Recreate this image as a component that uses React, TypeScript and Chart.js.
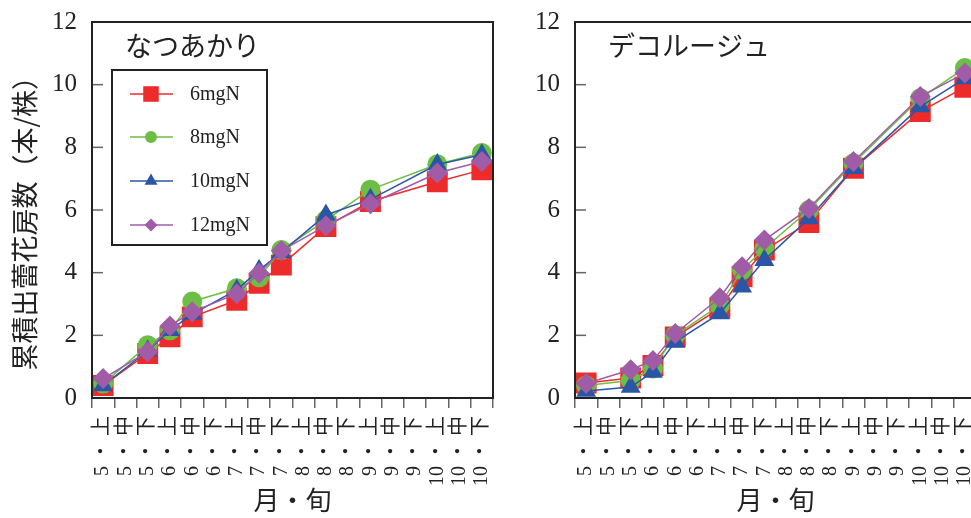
import React, { useEffect, useRef } from 'react';
import { Chart, registerables } from 'chart.js';
import { drawPoint } from 'chart.js/helpers';
Chart.register(...registerables);

// ---------- data ----------
const categories = [
  '5・上', '5・中', '5・下', '6・上', '6・中', '6・下',
  '7・上', '7・中', '7・下', '8・上', '8・中', '8・下',
  '9・上', '9・中', '9・下', '10・上', '10・中', '10・下',
];
const seriesNames = ['6mgN', '8mgN', '10mgN', '12mgN'];
const yTicks = [0, 2, 4, 6, 8, 10, 12];
const xTitle = '月・旬';
const yTitle = '累積出蕾花房数（本/株）';
const panelTitles = ['なつあかり', 'デコルージュ'];

// なつあかり
const natsu6 = [0.40, null, 1.42, 1.95, 2.59, null, 3.12, 3.66, 4.24, null, 5.47, null, 6.27, null, null, 6.90, null, 7.28];
const natsu8 = [0.46, null, 1.68, 2.16, 3.08, null, 3.50, 3.85, 4.72, null, 5.68, null, 6.65, null, null, 7.46, null, 7.82];
const natsu10 = [0.40, null, 1.50, 2.16, 2.68, null, 3.45, 4.08, 4.65, null, 5.84, null, 6.34, null, null, 7.45, null, 7.76];
const natsu12 = [0.62, null, 1.48, 2.30, 2.75, null, 3.33, 3.98, 4.70, null, 5.50, null, 6.20, null, null, 7.18, null, 7.55];

// デコルージュ
const deco6 = [0.48, null, 0.64, 1.04, 1.95, null, 2.86, 3.87, 4.72, null, 5.60, null, 7.33, null, null, 9.14, null, 9.92];
const deco8 = [0.40, null, 0.56, 0.94, 2.00, null, 2.96, 4.08, 4.77, null, 6.00, null, 7.49, null, null, 9.57, null, 10.53];
const deco10 = [0.22, null, 0.35, 0.83, 1.79, null, 2.70, 3.55, 4.40, null, 5.73, null, 7.33, null, null, 9.30, null, 10.20];
const deco12 = [0.46, null, 0.90, 1.20, 2.06, null, 3.20, 4.19, 5.04, null, 6.05, null, 7.55, null, null, 9.62, null, 10.37];

// ---------- styles ----------
const colors = ['#ee2b2b', '#6dbe45', '#2a56a6', '#a15ca8'];
const shapes = ['rect', 'circle', 'triangle', 'rectRot'];
const radii = [14.8, 10, 11.5, 10.5];
const legendRadii = [11, 6, 7.5, 6.5];
const TEXT = '#222';
const SERIF = "'Liberation Serif', 'Times New Roman', serif";
const CJK = "'Noto Sans CJK JP', sans-serif";

const decor = {
  id: 'decor',
  beforeDatasetsDraw(chart: any) {
    const { ctx, chartArea } = chart;
    const y = chart.scales.y;
    ctx.save();
    ctx.strokeStyle = '#666';
    ctx.lineWidth = 1.5;
    y.ticks.forEach((t: any) => {
      const py = y.getPixelForValue(t.value);
      ctx.beginPath();
      ctx.moveTo(chartArea.left, py);
      ctx.lineTo(chartArea.left + 11, py);
      ctx.stroke();
    });
    ctx.restore();
  },
  afterDatasetsDraw(chart: any, _args: any, opts: any) {
    const { ctx, chartArea } = chart;
    const { left, top, right, bottom } = chartArea;
    ctx.save();
    ctx.strokeStyle = TEXT;
    ctx.lineWidth = 2;
    ctx.strokeRect(left, top, right - left, bottom - top);

    ctx.fillStyle = TEXT;
    ctx.font = `27px ${CJK}`;
    ctx.textBaseline = 'middle';
    ctx.textAlign = 'left';
    ctx.fillText(opts.title, left + 33, top + 24);

    if (opts.legend) {
      const bx = left + 20, by = top + 48, bw = 155, bh = 175;
      ctx.fillStyle = '#fff';
      ctx.fillRect(bx, by, bw, bh);
      ctx.strokeStyle = TEXT;
      ctx.lineWidth = 2;
      ctx.strokeRect(bx, by, bw, bh);
      const rows = [72, 115, 159, 203];
      chart.data.datasets.forEach((ds: any, i: number) => {
        const ry = top + rows[i];
        ctx.strokeStyle = colors[i];
        ctx.lineWidth = 1.5;
        ctx.beginPath();
        ctx.moveTo(left + 38, ry);
        ctx.lineTo(left + 81, ry);
        ctx.stroke();
        ctx.fillStyle = colors[i];
        drawPoint(ctx, { pointStyle: shapes[i], radius: legendRadii[i], rotation: 0, borderWidth: 0 } as any, left + 59, ry);
        ctx.fillStyle = TEXT;
        ctx.font = `20px ${SERIF}`;
        ctx.textAlign = 'left';
        ctx.textBaseline = 'middle';
        ctx.fillText(ds.label, left + 98, ry + 1);
      });
    }
    ctx.restore();
  },
};

type PanelProps = {
  series: (number | null)[][];
  title: string;
  showYTitle: boolean;
  showLegend: boolean;
  x: number;
  width: number;
  yAxisWidth: number;
  padRight: number;
};

function Panel({ series, title, showYTitle, showLegend, x, width, yAxisWidth, padRight }: PanelProps) {
  const ref = useRef<HTMLCanvasElement | null>(null);
  useEffect(() => {
    if (!ref.current) return;
    const chart = new Chart(ref.current, {
      type: 'line',
      data: {
        labels: categories,
        datasets: series.map((d, i) => ({
          label: seriesNames[i],
          data: d,
          borderColor: colors[i],
          backgroundColor: colors[i],
          pointBackgroundColor: colors[i],
          pointBorderColor: colors[i],
          pointBorderWidth: 0,
          pointStyle: shapes[i] as any,
          pointRadius: radii[i],
          borderWidth: 1.5,
          spanGaps: true,
          tension: 0,
          order: 3 - i,
        })),
      },
      options: {
        animation: false,
        responsive: false,
        maintainAspectRatio: false,
        devicePixelRatio: 1,
        events: [],
        layout: { autoPadding: false, padding: { top: 22, right: padRight, bottom: 0, left: 0 } },
        plugins: {
          legend: { display: false },
          tooltip: { enabled: false },
          decor: { title, legend: showLegend },
        } as any,
        scales: {
          x: {
            type: 'category',
            offset: true,
            grid: { display: true, offset: true, drawOnChartArea: false, drawTicks: true, tickLength: 10, color: '#666', lineWidth: 1.5 },
            border: { display: false },
            ticks: {
              autoSkip: false,
              maxRotation: 90,
              minRotation: 90,
              padding: 8,
              color: TEXT,
              font: { family: "'Liberation Serif', 'Noto Sans CJK JP'", size: 20 },
              callback: (_v: any, i: number) => categories[i].replace('・', ' ・ '),
            },
            title: { display: true, text: xTitle, color: TEXT, font: { family: CJK, size: 26 }, padding: { top: 0, bottom: 2 } },
            afterFit: (s: any) => { s.height = 120; s.paddingLeft = 0; s.paddingRight = 0; },
          },
          y: {
            min: 0,
            max: 12,
            afterBuildTicks: (s: any) => { s.ticks = yTicks.map((v) => ({ value: v })); },
            ticks: { padding: 15, color: TEXT, font: { family: SERIF, size: 25 } },
            grid: { display: false, drawTicks: false },
            border: { display: false },
            title: { display: showYTitle, text: yTitle + '　', color: TEXT, font: { family: CJK, size: 27 }, padding: { top: 9, bottom: 0 } },
            afterFit: (s: any) => { s.width = yAxisWidth; s.paddingTop = 0; s.paddingBottom = 0; },
          },
        },
      } as any,
      plugins: [decor],
    });
    return () => chart.destroy();
  }, []);
  return (
    <canvas
      ref={ref}
      width={width}
      height={518}
      style={{ position: 'absolute', left: x, top: 0, width, height: 518 }}
    />
  );
}

export default function App() {
  return (
    <div style={{ position: 'fixed', left: 0, top: 0, width: 971, height: 518, overflow: 'hidden', background: '#fff' }}>
      <Panel series={[natsu6, natsu8, natsu10, natsu12]} title={panelTitles[0]} showYTitle={true} showLegend={true} x={0} width={500} yAxisWidth={92} padRight={7} />
      <Panel series={[deco6, deco8, deco10, deco12]} title={panelTitles[1]} showYTitle={false} showLegend={false} x={500} width={493} yAxisWidth={75} padRight={17} />
    </div>
  );
}
